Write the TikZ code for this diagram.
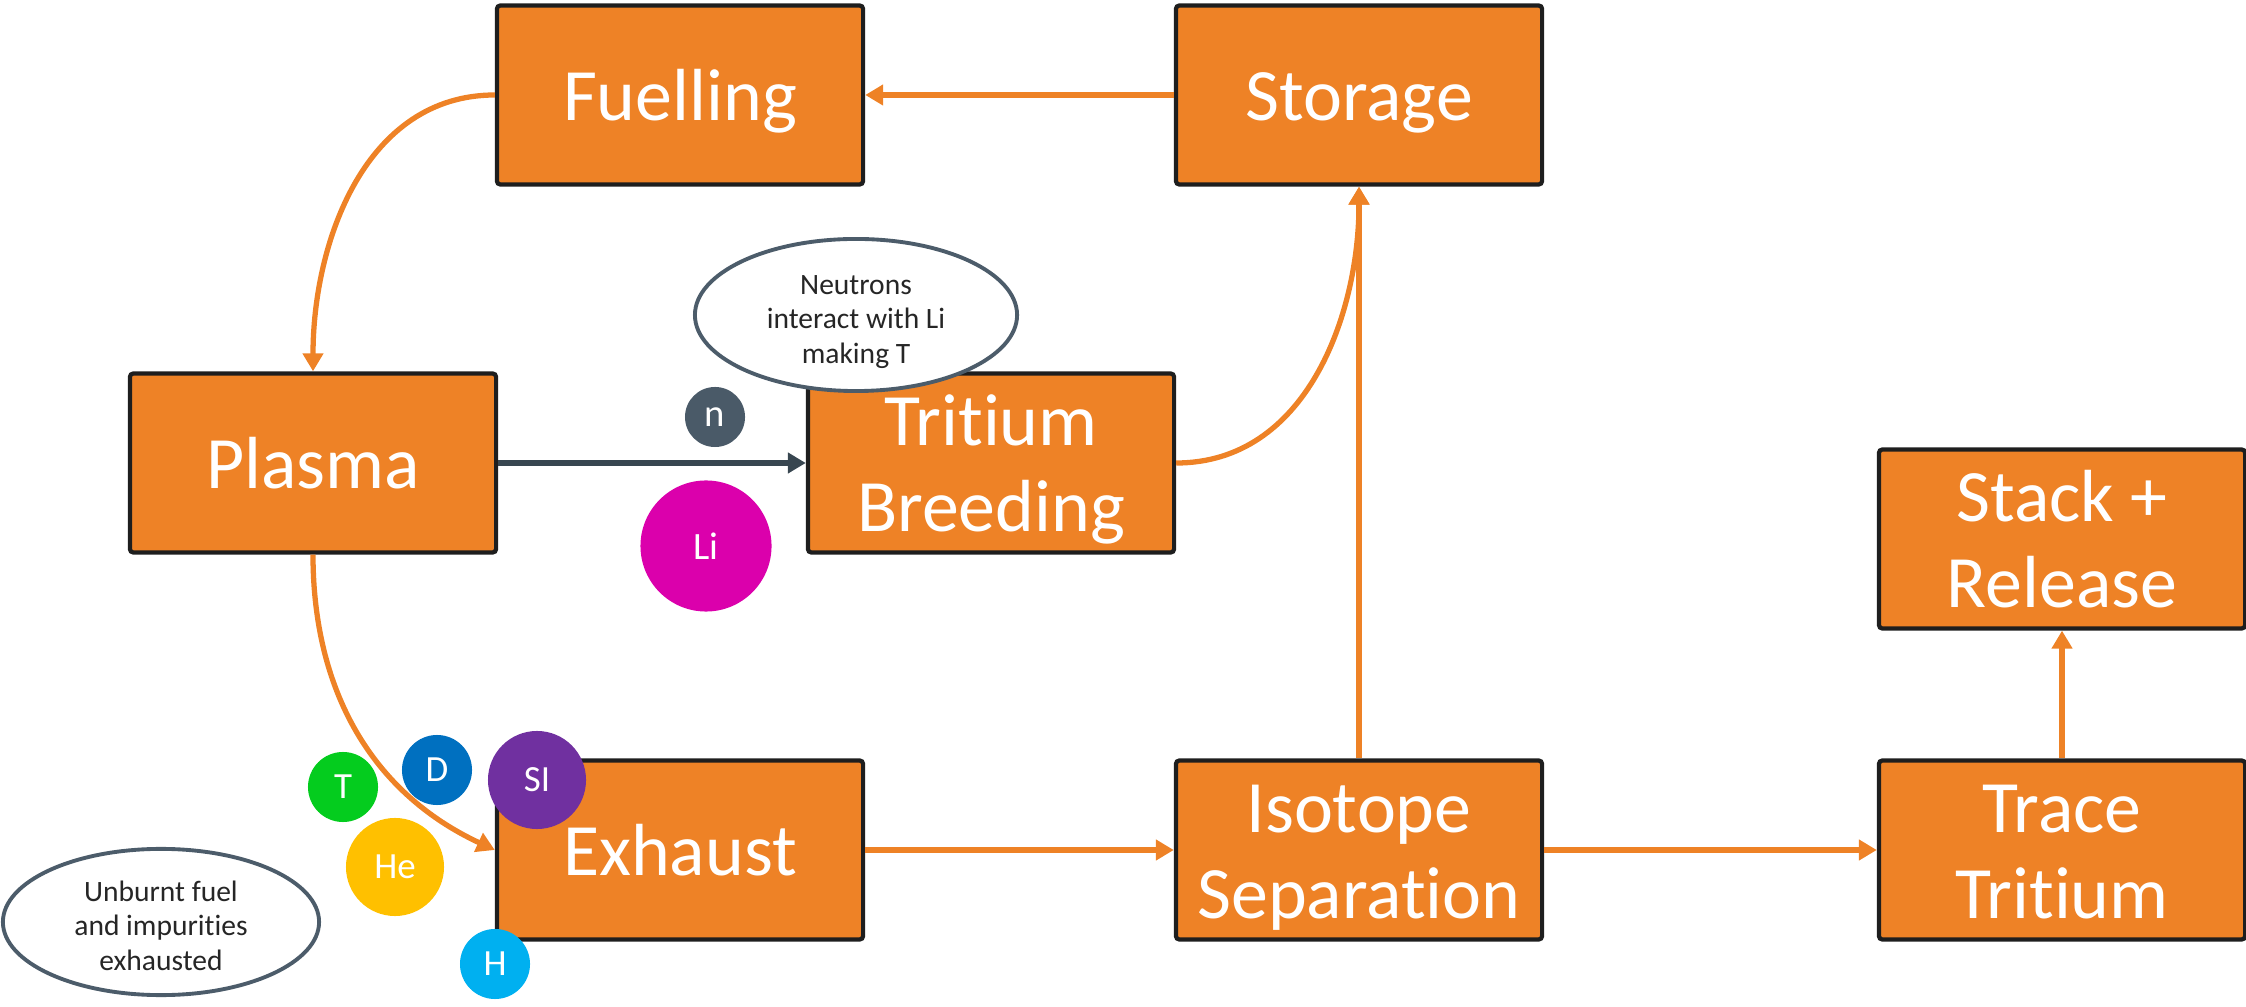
\documentclass[tikz,border=0pt]{standalone}
\usepackage{fontspec}
\setmainfont{Carlito}[Ligatures={NoCommon}]
\usetikzlibrary{arrows.meta,shapes.geometric}

\definecolor{boxorange}{RGB}{238,130,38}
\definecolor{boxedge}{RGB}{30,30,30}
\definecolor{slate}{RGB}{76,92,106}
\definecolor{darkslate}{RGB}{56,70,80}
\definecolor{notetext}{RGB}{38,38,38}
\definecolor{tgreen}{RGB}{4,204,30}
\definecolor{dblue}{RGB}{0,112,192}
\definecolor{sipurple}{RGB}{112,48,160}
\definecolor{heamber}{RGB}{255,192,0}
\definecolor{hblue}{RGB}{0,176,240}
\definecolor{limagenta}{RGB}{219,0,172}
\definecolor{neutrongrey}{RGB}{74,90,104}

% centred lines, lowered a little (box size kept) so the caps sit in the middle of the shape
\newcommand{\stagelines}[1]{\raisebox{-0.08cm}[\height][\depth]{\setlength{\tabcolsep}{0pt}\begin{tabular}{c}#1\end{tabular}}}
\newcommand{\notelines}[1]{\raisebox{-0.07cm}[\height][\depth]{\setlength{\tabcolsep}{0pt}\begin{tabular}{c}#1\end{tabular}}}

\begin{document}
\begin{tikzpicture}[x=0.01cm,y=-0.01cm,
  stage/.style={draw=boxedge, line width=1.2pt, fill=boxorange, rounded corners=1pt,
    minimum width=3.66cm, minimum height=1.79cm, text=white,
    font=\fontsize{21}{24.5}\selectfont, inner sep=0pt},
  note/.style={ellipse, draw=slate, line width=1.1pt, fill=white, text=notetext,
    font=\fontsize{8.4}{9.8}\selectfont, inner sep=0pt},
  particle/.style={circle, inner sep=0pt, text=white, font=\fontsize{10.5}{12}\selectfont},
  flow/.style={draw=boxorange, line width=1.5pt, -{Triangle[length=0.18cm,width=0.2cm]}},
  neutronflow/.style={draw=darkslate, line width=1.5pt, -{Triangle[length=0.18cm,width=0.2cm]}},
]
\useasboundingbox (0,0) rectangle (2246,1007);

% process stages
\node[stage] (fuelling) at (680,95)   {\stagelines{Fuelling}};
\node[stage] (storage)  at (1359,95)  {\stagelines{Storage}};
\node[stage] (plasma)   at (313,463)  {\stagelines{Plasma}};
\node[stage] (breeding) at (991,463)  {\stagelines{Tritium\\Breeding}};
\node[stage] (stack)    at (2062,539) {\stagelines{Stack +\\Release}};
\node[stage] (exhaust)  at (680,850)  {\stagelines{Exhaust}};
\node[stage] (isotope)  at (1359,850) {\stagelines{Isotope\\Separation}};
\node[stage] (trace)    at (2062,850) {\stagelines{Trace\\Tritium}};

% particles
\node[particle, fill=neutrongrey, minimum size=0.60cm, font=\fontsize{11}{12}\selectfont] (neutron) at (715,417) {n};
\node[particle, fill=limagenta, minimum size=1.31cm, font=\fontsize{11}{12}\selectfont] (lithium) at (706,546) {Li};
\node[particle, fill=tgreen,   minimum size=0.70cm] (tritium)   at (343,787) {T};
\node[particle, fill=dblue,    minimum size=0.70cm] (deuterium) at (437,770) {D};
\node[particle, fill=sipurple, minimum size=0.98cm] (impurity)  at (537,780) {SI};
\node[particle, fill=heamber,  minimum size=0.98cm] (helium)    at (395,867) {He};
\node[particle, fill=hblue,    minimum size=0.70cm] (hydrogen)  at (495,964) {H};

% notes
\node[note, minimum width=3.22cm, minimum height=1.52cm] (breednote) at (856,315)
  {\notelines{Neutrons\\interact with Li\\making T}};
\node[note, minimum width=3.16cm, minimum height=1.44cm] (exhaustnote) at (161,922)
  {\notelines{Unburnt fuel\\and impurities\\exhausted}};

% flows
\draw[flow] (storage.west) -- (fuelling.east);
\draw[flow] (fuelling.west) to[out=180,in=90] (plasma.north);
\draw[flow] (plasma.south) to[out=-90,in=155] (exhaust.west);
\draw[flow] (breeding.east) to[out=0,in=-90] (storage.south);
\draw[flow] (isotope.north) -- (storage.south);
\draw[flow] (exhaust.east) -- (isotope.west);
\draw[flow] (isotope.east) -- (trace.west);
\draw[flow] (trace.north) -- (stack.south);
\draw[neutronflow] (plasma.east) -- (breeding.west);
\end{tikzpicture}
\end{document}
